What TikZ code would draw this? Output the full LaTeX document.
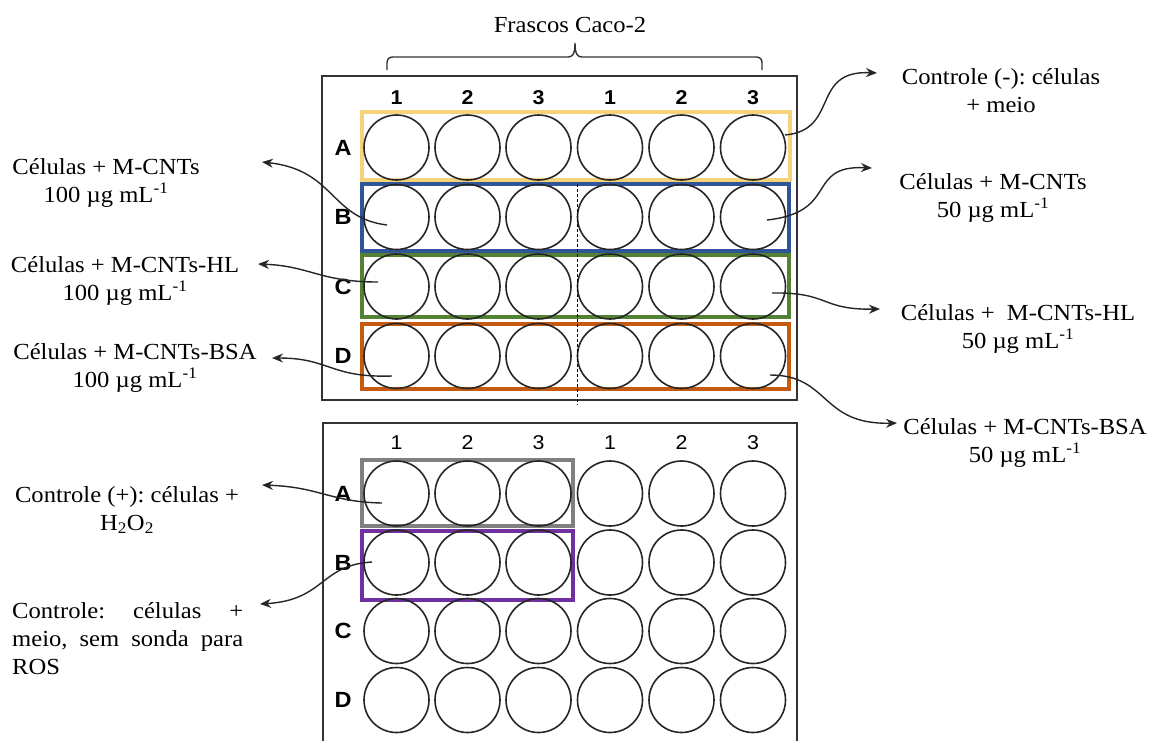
\documentclass[tikz,border=0pt]{standalone}
\usepackage{fontspec}
\setmainfont{Liberation Serif}[FakeStretch=1.07]
\setsansfont{Liberation Sans}[FakeStretch=1.07]
\usetikzlibrary{arrows.meta}
\frenchspacing

\definecolor{grpyellow}{RGB}{244,211,122}
\definecolor{grpblue}{RGB}{47,85,151}
\definecolor{grpgreen}{RGB}{84,130,53}
\definecolor{grporange}{RGB}{197,90,17}
\definecolor{grpgrey}{RGB}{128,128,128}
\definecolor{grppurple}{RGB}{112,48,160}

\tikzset{
  well/.style={circle, draw=black!85, line width=1.6pt, minimum size=65pt, inner sep=0pt},
  rowlbl/.style={font=\sffamily\bfseries\fontsize{22}{22}\selectfont, inner sep=0pt},
  collbl/.style={font=\sffamily\bfseries\fontsize{20}{20}\selectfont, inner sep=0pt},
  collblthin/.style={font=\sffamily\fontsize{20}{20}\selectfont, inner sep=0pt},
  note/.style={font=\fontsize{23}{28}\selectfont, align=center, inner sep=0pt},
  link/.style={line width=1.4pt, draw=black!85, -{Stealth[length=11pt,width=9pt]}},
  plate/.style={draw=black!80, line width=1.8pt},
  group/.style={line width=3.5pt},
}

\begin{document}
\begin{tikzpicture}[x=1pt,y=-1pt]
\clip (0,0) rectangle (1151,740);
\fill[white] (0,0) rectangle (1151,740);

% ---------- upper plate ----------
\draw[plate] (322,76) rectangle (797,400);
\draw[group, grpyellow] (362,112) rectangle (790,180);
\draw[group, grpblue]   (362,184) rectangle (789,251);
\draw[group, grpgreen]  (362,255) rectangle (789,317);
\draw[group, grporange] (362,324) rectangle (789,389);

\foreach \r/\y in {A/147.5, B/217, C/286.5, D/356} {
  \foreach \c/\x in {1/396.5, 2/467.5, 3/538.5, 4/610, 5/681.5, 6/753} {
    \node[well] (t\r\c) at (\x,\y) {};
  }
  \node[rowlbl] (trow\r) at (343,\y) {\r};
}
\foreach \c/\x/\t in {1/396.5/1, 2/467.5/2, 3/538.5/3, 4/610/1, 5/681.5/2, 6/753/3} {
  \node[collbl] (tcol\c) at (\x,98) {\t};
}
\draw[line width=1pt, dash pattern=on 3pt off 2pt] (577,184) -- (577,405);

% brace over the columns
\draw[line width=1.4pt, black!80]
  (387,70) -- (387,63) .. controls (387,59) and (389,57) .. (393,57)
  -- (568,57) .. controls (572,57) and (575,55) .. (575,43)
  .. controls (575,55) and (578,57) .. (582,57)
  -- (756,57) .. controls (760,57) and (762,59) .. (762,63) -- (762,70);
\node[note] (frascos) at (570,25) {Frascos Caco-2};

% ---------- lower plate ----------
\draw[plate] (323,423) rectangle (797,760);
\draw[group, grpgrey]   (362,460) rectangle (573,526);
\draw[group, grppurple] (362,531) rectangle (573,600);

\foreach \r/\y in {A/493.5, B/562.5, C/631, D/700} {
  \foreach \c/\x in {1/396.5, 2/467.5, 3/538.5, 4/610, 5/681.5, 6/753} {
    \node[well] (b\r\c) at (\x,\y) {};
  }
  \node[rowlbl] (brow\r) at (343,\y) {\r};
}
\foreach \c/\x/\t in {1/396.5/1, 2/467.5/2, 3/538.5/3, 4/610/1, 5/681.5/2, 6/753/3} {
  \node[collblthin] (bcol\c) at (\x,443) {\t};
}

% ---------- treatment labels ----------
\node[note] (negctl) at (1001,91)  {Controle (-): células\\+ meio};
\node[note] (cnt50)  at (993,198)  {Células + M-CNTs\\50 µg mL\textsuperscript{-1}};
\node[note] (hl50)   at (1018,329) {Células + \ M-CNTs-HL\\50 µg mL\textsuperscript{-1}};
\node[note] (bsa50)  at (1025,443) {Células + M-CNTs-BSA\\50 µg mL\textsuperscript{-1}};

\node[note] (cnt100) at (106,183) {Células + M-CNTs\\100 µg mL\textsuperscript{-1}};
\node[note] (hl100)  at (125,281) {Células + M-CNTs-HL\\100 µg mL\textsuperscript{-1}};
\node[note] (bsa100) at (135,368) {Células + M-CNTs-BSA\\100 µg mL\textsuperscript{-1}};

\node[note] (posctl) at (127,510) {Controle (+): células +\\H\textsubscript{2}O\textsubscript{2}};
\node[note, align=left, anchor=west] (rosctl) at (12,639)
  {\makebox[231pt][s]{Controle: células +}\\
   \makebox[231pt][s]{meio, sem sonda para}\\ROS};

% ---------- connector end points ----------
\coordinate (sNeg) at (785,135);   \coordinate (eNeg) at (877,73);
\coordinate (sB50) at (767,220);   \coordinate (eB50) at (872,168);
\coordinate (sC50) at (772,293);   \coordinate (eC50) at (880,309);
\coordinate (sD50) at (770,375);   \coordinate (eD50) at (897,423);
\coordinate (sB100) at (387,225);  \coordinate (eB100) at (262,162);
\coordinate (sC100) at (378,282);  \coordinate (eC100) at (258,264);
\coordinate (sD100) at (392,376);  \coordinate (eD100) at (272,358);
\coordinate (sPos) at (382,503);   \coordinate (ePos) at (262,485);
\coordinate (sRos) at (372,562);   \coordinate (eRos) at (260,604);

\draw[link] (sNeg) .. controls (840,130) and (810,70) .. (eNeg);
\draw[link] (sB50) .. controls (840,212) and (805,165) .. (eB50);
\draw[link] (sC50) .. controls (830,292) and (820,310) .. (eC50);
\draw[link] (sD50) .. controls (830,375) and (820,425) .. (eD50);
\draw[link] (sB100) .. controls (330,218) and (335,170) .. (eB100);
\draw[link] (sC100) .. controls (320,282) and (310,266) .. (eC100);
\draw[link] (sD100) .. controls (330,378) and (330,358) .. (eD100);
\draw[link] (sPos) .. controls (330,502) and (320,487) .. (ePos);
\draw[link] (sRos) .. controls (320,565) and (325,600) .. (eRos);
\end{tikzpicture}
\end{document}
